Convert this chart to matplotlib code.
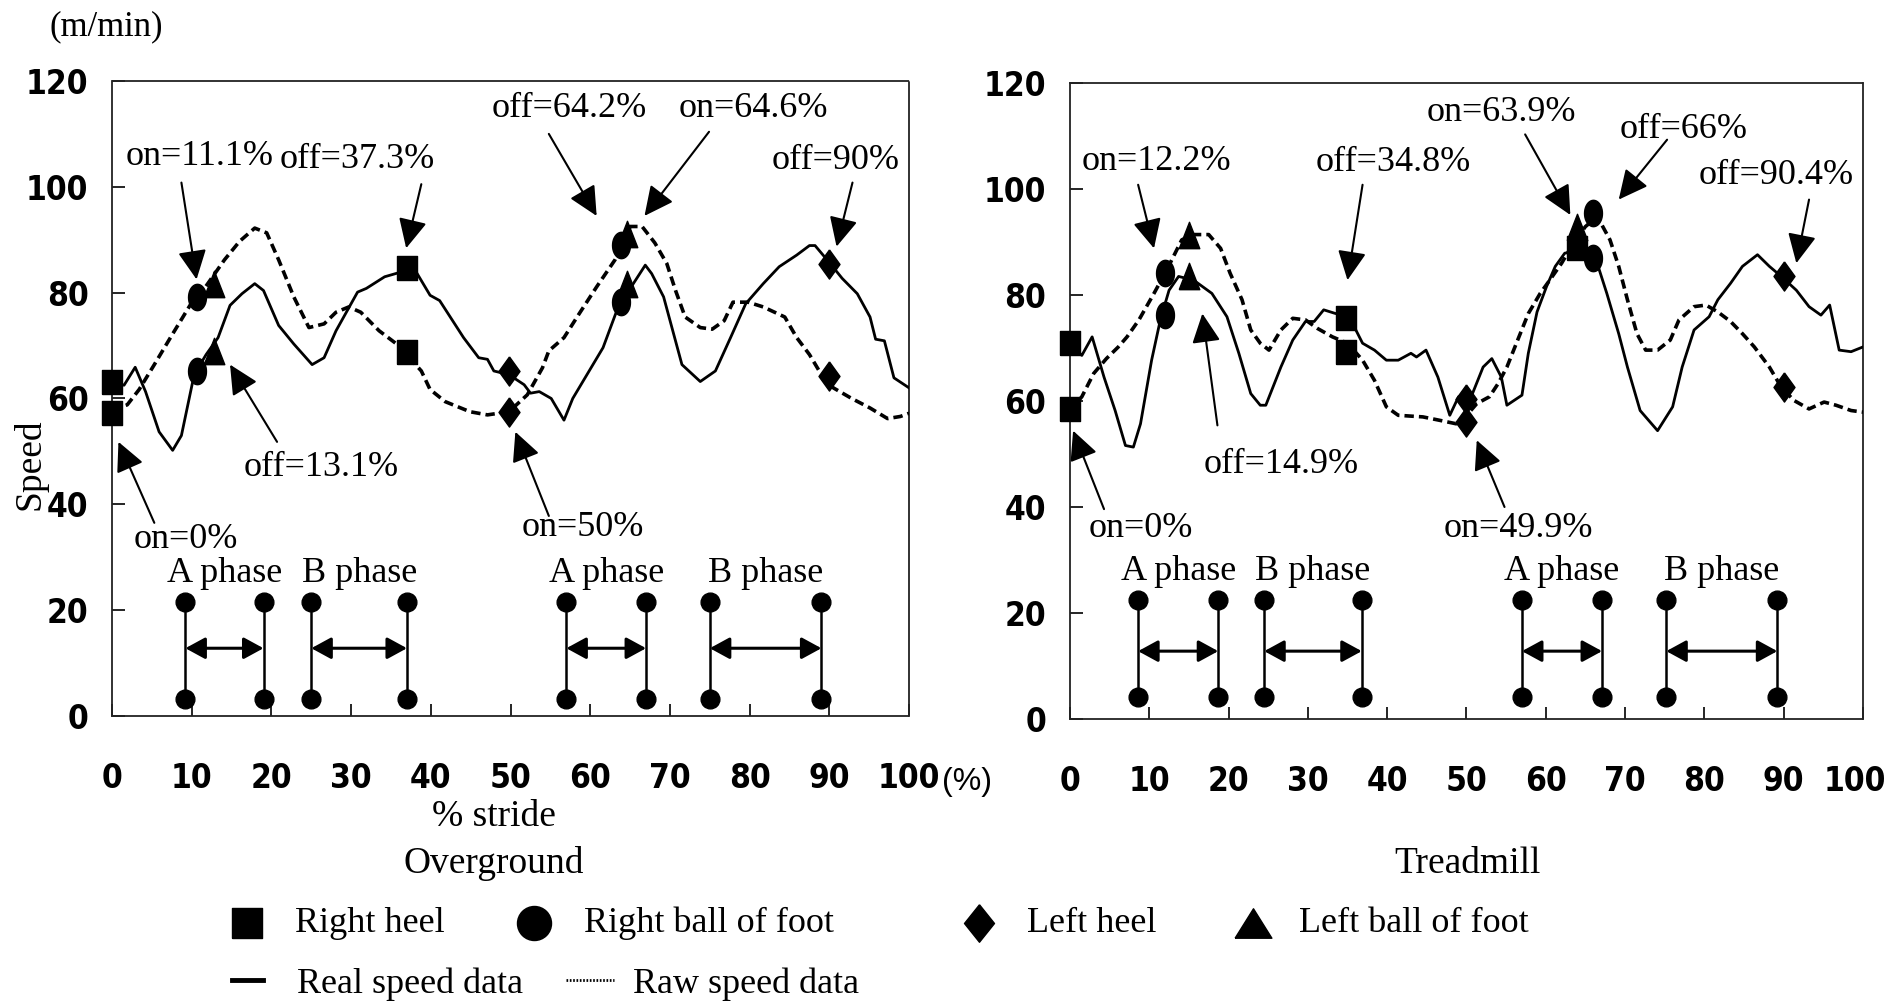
import matplotlib
matplotlib.use("Agg")
import matplotlib.pyplot as plt
import matplotlib.transforms as mtransforms
import numpy as np
from matplotlib.lines import Line2D
from matplotlib import font_manager as fm

SERIF = ["Liberation Serif", "DejaVu Serif"]
plt.rcParams["font.family"] = SERIF

# tick numbers in the scan are a narrow bold sans; use one if the box has it
_narrow = [f for f in fm.fontManager.ttflist
           if ("Narrow" in f.name or "Condensed" in f.name or f.stretch == "condensed")
           and f.weight in ("bold", 700) and f.style == "normal"]
if _narrow:
    TICK_FP = fm.FontProperties(fname=_narrow[0].fname, size=24)
else:
    TICK_FP = fm.FontProperties(family="Liberation Sans", weight="bold", size=23)

# ---- Overground: speed curves (% stride vs m/min)
ov_real_x = [0, 1.5, 2.9, 4.2, 5.9, 7.6, 8.7, 10.3, 11.8, 13.3, 14.8, 16.3, 17.9, 19.0, 20.9,
             22.8, 25.1, 26.6, 28.1, 30.8, 31.9, 34.2, 36.5, 38.0, 39.9, 41.1, 44.1, 46.0, 47.1,
             47.9, 49.8, 51.7, 52.5, 53.6, 55.1, 56.7, 57.8, 61.6, 63.5, 65.4, 66.9, 67.7, 69.2,
             71.5, 73.8, 75.7, 77.6, 79.5, 81.7, 83.7, 85.9, 87.5, 88.2, 90.1, 91.6, 93.5, 95.1,
             95.8, 96.9, 98.1, 100]
ov_real_y = [63.2, 62.5, 65.9, 61.3, 53.7, 50.2, 53.0, 64.5, 68.3, 71.5, 77.6, 79.8, 81.7, 80.4,
             73.8, 70.3, 66.4, 67.7, 72.8, 80.1, 80.8, 83.0, 84.0, 84.3, 79.5, 78.5, 71.5, 67.7,
             67.4, 65.2, 64.5, 62.6, 61.0, 61.3, 60.0, 55.9, 60.0, 69.6, 77.3, 81.7, 85.2, 83.6,
             79.2, 66.4, 63.2, 65.2, 71.5, 77.9, 81.7, 84.9, 87.1, 88.9, 88.9, 85.5, 82.7, 79.8,
             75.4, 71.2, 70.9, 63.9, 62.0]
ov_raw_x = [0, 1.9, 3.4, 5.3, 7.6, 9.9, 11.4, 14.1, 16.0, 17.9, 19.4, 20.9, 22.8, 24.7, 26.6,
            28.1, 29.7, 31.2, 33.5, 35.7, 37.3, 38.8, 39.9, 41.8, 44.9, 47.1, 49.8, 52.1, 54.0,
            54.8, 56.7, 58.6, 60.8, 63.1, 65.0, 66.5, 68.1, 69.6, 70.7, 71.9, 73.8, 75.3, 76.8,
            77.9, 79.8, 81.7, 84.4, 85.9, 87.5, 89.0, 90.5, 92.8, 95.1, 97.3, 98.9, 100]
ov_raw_y = [57.8, 58.8, 61.7, 66.4, 72.2, 77.9, 80.4, 86.2, 89.7, 92.2, 91.3, 86.2, 79.2, 73.4,
            74.1, 76.3, 77.3, 76.3, 72.8, 70.3, 67.7, 65.2, 61.7, 59.4, 57.5, 56.9, 57.5, 60.7,
            65.8, 69.0, 71.5, 76.0, 81.1, 86.2, 92.5, 92.5, 89.4, 85.5, 80.4, 75.4, 73.4, 73.1,
            74.7, 78.2, 78.2, 77.3, 75.4, 71.5, 68.3, 64.5, 62.0, 60.0, 58.2, 56.2, 56.6, 57.2]

# ---- Treadmill: speed curves
tm_real_x = [0, 1.5, 2.8, 4.3, 5.7, 7.0, 8.0, 8.9, 10.3, 11.4, 12.5, 13.7, 15.6, 17.9, 19.8,
             21.3, 22.8, 24.0, 24.7, 26.6, 28.1, 29.7, 30.8, 32.0, 33.5, 35.0, 36.9, 38.4, 39.9,
             41.4, 43.0, 43.7, 44.9, 46.4, 47.9, 49.0, 50.6, 52.1, 53.2, 54.4, 55.1, 57.0, 57.8,
             58.9, 60.1, 61.2, 62.4, 63.9, 65.0, 66.2, 67.7, 69.2, 70.3, 71.9, 74.1, 76.0, 77.2,
             78.7, 80.6, 81.7, 83.3, 84.8, 86.7, 88.2, 89.7, 91.6, 93.2, 94.7, 95.8, 97.0, 98.5, 100]
tm_real_y = [70.9, 68.6, 72.1, 64.5, 58.2, 51.6, 51.3, 55.7, 67.7, 75.3, 80.9, 83.5, 82.8, 80.3,
             75.9, 69.0, 61.4, 59.2, 59.2, 66.4, 71.5, 75.0, 75.0, 77.2, 76.5, 76.5, 70.9, 69.6,
             67.7, 67.7, 69.0, 68.3, 69.6, 64.5, 57.3, 60.8, 60.8, 66.4, 68.0, 64.5, 59.2, 61.1,
             69.0, 76.8, 81.6, 85.4, 87.9, 88.2, 89.1, 87.3, 80.3, 72.7, 66.4, 58.2, 54.4, 58.9,
             66.4, 73.4, 75.9, 79.1, 82.2, 85.4, 87.6, 85.4, 83.5, 80.9, 77.8, 76.2, 78.1, 69.6,
             69.3, 70.2]
tm_raw_x = [0, 1.5, 3.0, 4.6, 6.1, 7.2, 8.7, 10.6, 12.2, 14.1, 15.6, 17.5, 19.0, 20.2, 21.7,
            22.8, 24.0, 25.1, 26.6, 28.1, 29.7, 31.2, 33.1, 35.0, 36.9, 38.4, 39.9, 41.4, 44.5,
            46.8, 48.7, 50.2, 51.3, 52.9, 54.0, 55.1, 56.3, 57.8, 59.3, 60.5, 62.0, 63.5, 65.0,
            66.5, 68.1, 69.2, 70.3, 71.5, 72.6, 74.1, 75.7, 76.8, 78.7, 80.2, 81.7, 83.3, 84.8,
            86.3, 88.2, 89.7, 91.3, 93.2, 95.1, 96.6, 98.5, 100]
tm_raw_y = [58.2, 60.8, 65.2, 68.0, 70.2, 72.1, 75.3, 80.3, 84.7, 90.4, 91.4, 91.4, 88.8, 84.1,
            79.1, 73.4, 70.9, 69.6, 73.4, 75.6, 75.3, 73.7, 72.1, 70.9, 67.7, 63.9, 58.9, 57.3,
            57.0, 56.3, 55.7, 57.6, 59.5, 60.8, 63.3, 66.4, 70.9, 76.5, 80.3, 82.8, 86.0, 89.8,
            92.9, 94.8, 90.4, 85.4, 79.1, 72.7, 69.6, 69.6, 71.5, 75.3, 77.8, 78.1, 76.8, 75.0,
            72.7, 70.2, 66.4, 62.6, 60.1, 58.5, 59.8, 59.2, 58.2, 57.9]

# ---- foot-contact markers (x = % stride, y = speed)
ov_rheel_x, ov_rheel_y = [0, 0, 37, 37], [63.2, 57.2, 84.7, 68.7]
ov_rball_x, ov_rball_y = [10.6, 10.6, 63.9, 63.9], [79.2, 65.2, 89.0, 78.2]
ov_lheel_x, ov_lheel_y = [49.8, 49.8, 89.9, 89.9], [65.2, 57.5, 85.5, 64.2]
ov_lball_x, ov_lball_y = [12.8, 12.8, 64.6, 64.6], [81.7, 69.0, 91.0, 81.7]

tm_rheel_x, tm_rheel_y = [0, 0, 34.8, 34.8, 63.9], [70.9, 58.5, 75.6, 69.3, 88.8]
tm_rball_x, tm_rball_y = [12.0, 12.0, 65.9, 65.9], [84.1, 76.2, 95.5, 86.9]
tm_lheel_x, tm_lheel_y = [50, 50, 90, 90], [60.4, 56.0, 83.5, 62.7]
tm_lball_x, tm_lball_y = [15, 15, 64], [91.4, 83.5, 92.9]

# ---- event call-outs: label, arrow head, arrow tail, label centre
ov_notes = [("on=11.1%", (10.6, 82.5), (8.7, 100.8), (11.0, 105.8)),
            ("off=37.3%", (36.9, 88.4), (38.8, 100.5), (30.8, 105.2)),
            ("off=64.2%", (60.8, 94.5), (54.8, 110.0), (57.3, 114.8)),
            ("on=64.6%", (66.8, 94.5), (74.9, 110.4), (80.4, 114.8)),
            ("off=90%", (90.9, 88.7), (92.9, 100.8), (90.8, 105.0)),
            ("off=13.1%", (14.8, 66.4), (20.7, 51.8), (26.2, 47.0)),
            ("on=0%", (0.8, 51.8), (5.3, 36.5), (9.3, 33.3)),
            ("on=50%", (50.6, 53.7), (54.8, 37.8), (59.0, 35.7))]
tm_notes = [("on=12.2%", (10.6, 88.8), (8.6, 100.8), (10.9, 105.1)),
            ("off=34.8%", (35.0, 82.8), (36.9, 100.8), (40.8, 105.0)),
            ("on=63.9%", (63.1, 95.1), (57.4, 110.3), (54.4, 114.4)),
            ("off=66%", (69.2, 98.0), (75.3, 109.3), (77.4, 111.2)),
            ("off=90.4%", (91.6, 86.0), (93.2, 98.0), (89.0, 102.6)),
            ("off=14.9%", (16.7, 76.5), (18.6, 55.4), (26.6, 48.0)),
            ("on=0%", (0.4, 54.4), (4.3, 39.6), (9.0, 36.0)),
            ("on=49.9%", (51.3, 52.6), (54.8, 40.0), (56.5, 36.0))]

# ---- phase brackets: label, start %, end %
ov_phases = [("A phase", 9.2, 19.0), ("B phase", 25.0, 37.0),
             ("A phase", 57.0, 67.0), ("B phase", 75.0, 89.0)]
tm_phases = [("A phase", 8.6, 18.7), ("B phase", 24.5, 36.8),
             ("A phase", 57.0, 67.1), ("B phase", 75.2, 89.2)]

# marker shapes (the scanned symbols are taller than wide)
t = np.linspace(0, 2 * np.pi, 41)
ELL = list(zip(0.68 * np.cos(t), np.sin(t)))
RECT = [(-0.8, -1), (0.8, -1), (0.8, 1), (-0.8, 1), (-0.8, -1)]
DIAM = [(0, 1), (0.72, 0), (0, -1), (-0.72, 0), (0, 1)]
TRI = [(-0.78, -1), (0.78, -1), (0, 1), (-0.78, -1)]


def draw_panel(ax, real, raw, marks, notes, phases, top, bot):
    ax.plot(real[0], real[1], color="k", lw=2.0, zorder=3)
    ax.plot(raw[0], raw[1], color="k", lw=2.6, dashes=(2.6, 1.4), zorder=3)
    for verts, ms, xs, ys in marks:
        ax.plot(xs, ys, ls="none", marker=verts, ms=ms, color="k", clip_on=False, zorder=5)
    for txt, head, tail, pos in notes:
        ax.annotate("", xy=head, xytext=tail,
                    arrowprops=dict(arrowstyle="-|>,head_length=0.45,head_width=0.22",
                                    mutation_scale=40, lw=1.5, color="k",
                                    shrinkA=0, shrinkB=0), zorder=6)
        ax.text(pos[0], pos[1], txt, ha="center", va="center", fontsize=26)
    for name, a, b in phases:
        for xv in (a, b):
            ax.plot([xv, xv], [bot, top], color="k", lw=1.8, marker="o", ms=13.5, zorder=4)
        ax.annotate("", xy=(b, 12.8), xytext=(a, 12.8),
                    arrowprops=dict(arrowstyle="<|-|>,head_length=0.55,head_width=0.3",
                                    mutation_scale=22, lw=2.2, color="k",
                                    shrinkA=0, shrinkB=0))
        ax.text((a + b) / 2, top + 5.4, name, ha="center", va="center", fontsize=26)

    ax.set_xlim(0, 100)
    ax.set_ylim(0, 120)
    ax.set_xticks(range(0, 101, 10))
    ax.set_yticks(range(0, 121, 20))
    ax.tick_params(direction="in", length=9, width=1.2, top=False, right=False)
    ax.tick_params(axis="x", pad=33)
    ax.tick_params(axis="y", pad=17)
    for lab in ax.get_xticklabels() + ax.get_yticklabels():
        lab.set_fontproperties(TICK_FP)
    for sp in ax.spines.values():
        sp.set_linestyle((0, (1, 1)))
        sp.set_linewidth(1.3)
        sp.set_color("#222")


fig = plt.figure(figsize=(18.9, 10.06), dpi=100)
ax1 = fig.add_axes([0.0593, 0.2883, 0.4217, 0.6312])
ax2 = fig.add_axes([0.5661, 0.2853, 0.4196, 0.6322])

draw_panel(ax1, (ov_real_x, ov_real_y), (ov_raw_x, ov_raw_y),
           [(RECT, 17.5, ov_rheel_x, ov_rheel_y), (ELL, 19, ov_rball_x, ov_rball_y),
            (DIAM, 21, ov_lheel_x, ov_lheel_y), (TRI, 19, ov_lball_x, ov_lball_y)],
           ov_notes, ov_phases, 21.5, 3.2)
draw_panel(ax2, (tm_real_x, tm_real_y), (tm_raw_x, tm_raw_y),
           [(RECT, 17.5, tm_rheel_x, tm_rheel_y), (ELL, 19, tm_rball_x, tm_rball_y),
            (DIAM, 21, tm_lheel_x, tm_lheel_y), (TRI, 19, tm_lball_x, tm_lball_y)],
           tm_notes, tm_phases, 22.4, 4.2)

# the last treadmill label sits on the page edge; nudge it in a little
last = ax2.get_xticklabels()[-1]
last.set_transform(last.get_transform() +
                   mtransforms.ScaledTranslation(-6 / 72, 0, fig.dpi_scale_trans))

fig.text(0.0561, 0.9732, "(m/min)", ha="center", va="center", fontsize=25)
fig.text(0.0160, 0.5388, "Speed", ha="center", va="center", rotation=90, fontsize=27)
fig.text(0.5115, 0.2230, "(%)", ha="center", va="center", fontsize=23, family="Liberation Sans")
fig.text(0.2614, 0.1879, "% stride", ha="center", va="center", fontsize=27)
fig.text(0.2614, 0.1412, "Overground", ha="center", va="center", fontsize=27)
fig.text(0.7767, 0.1412, "Treadmill", ha="center", va="center", fontsize=27)

# hand-placed legend, two rows like the original figure caption
LEG_TRI = [(-1, -0.8), (1, -0.8), (0, 0.8), (-1, -0.8)]
LEG_SQ = [(-1, -1), (1, -1), (1, 1), (-1, 1), (-1, -1)]
LEG_DI = [(0, 1), (0.8, 0), (0, -1), (-0.8, 0), (0, 1)]
row1 = [(LEG_SQ, 21.5, 247, "Right heel", 295), ("o", 24.5, 534, "Right ball of foot", 584),
        (LEG_DI, 27, 979, "Left heel", 1027), (LEG_TRI, 26.5, 1253, "Left ball of foot", 1299)]
y1 = 1 - 923 / 1006
for mk, ms, mx, label, tx in row1:
    fig.add_artist(Line2D([mx / 1890], [y1], transform=fig.transFigure, ls="none",
                          marker=mk, ms=ms, color="k"))
    fig.text(tx / 1890, y1, label, ha="left", va="center", fontsize=26)
y2 = 1 - 984 / 1006
fig.add_artist(Line2D([232 / 1890, 263 / 1890], [y2 + 0.004, y2 + 0.004],
                      transform=fig.transFigure, color="k", lw=3.5))
fig.text(297 / 1890, y2, "Real speed data", ha="left", va="center", fontsize=26)
fig.add_artist(Line2D([566 / 1890, 614 / 1890], [y2 + 0.004, y2 + 0.004],
                      transform=fig.transFigure, color="k", lw=2.0, dashes=(0.6, 0.6)))
fig.text(633 / 1890, y2, "Raw speed data", ha="left", va="center", fontsize=26)

fig.savefig("out.png", dpi=100)
